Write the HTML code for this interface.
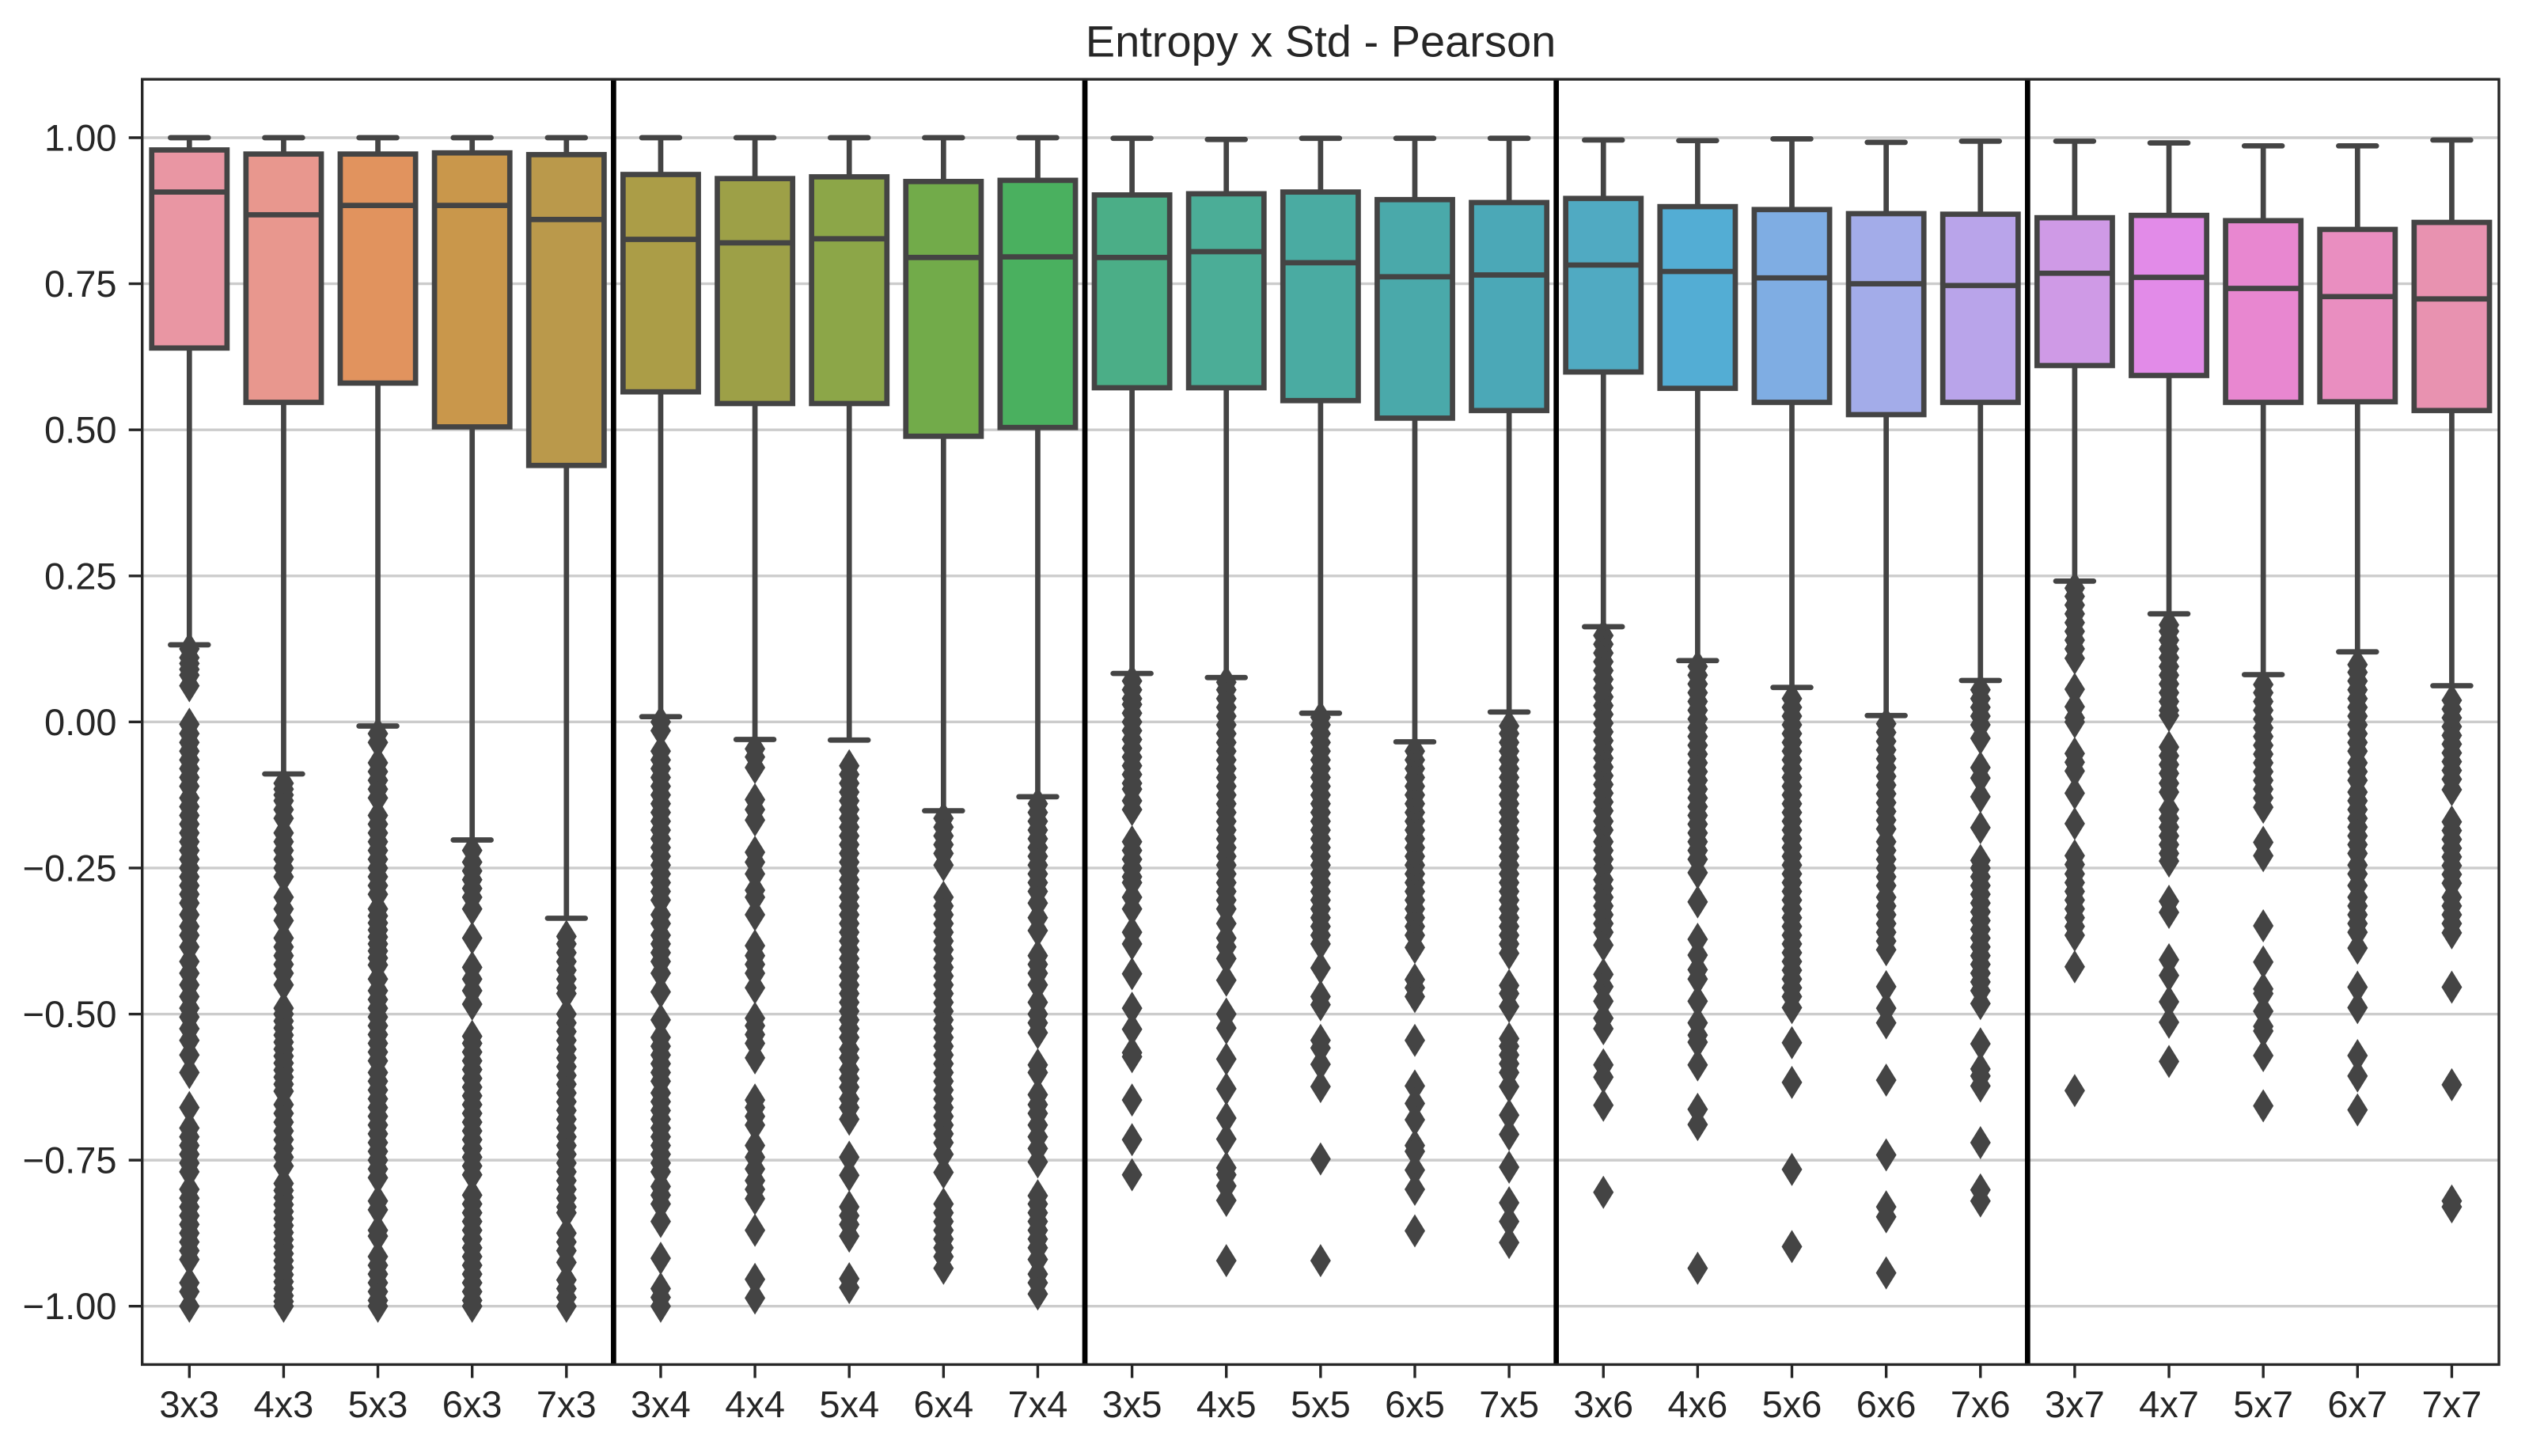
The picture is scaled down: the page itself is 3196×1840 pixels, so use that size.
<!DOCTYPE html>
<html lang="en">
<head>
<meta charset="utf-8">
<title>Entropy x Std - Pearson</title>
<style>
html,body{margin:0;padding:0;background:#fff;width:3196px;height:1840px;overflow:hidden}
svg{display:block}
text{font-family:"Liberation Sans",Arial,sans-serif;fill:#262626}
</style>
</head>
<body>
<svg id="chart" xmlns="http://www.w3.org/2000/svg" width="3196" height="1840" viewBox="0 0 3196 1840"></svg>
<script>
const categories = ["3x3","4x3","5x3","6x3","7x3","3x4","4x4","5x4","6x4","7x4","3x5","4x5","5x5","6x5","7x5","3x6","4x6","5x6","6x6","7x6","3x7","4x7","5x7","6x7","7x7"];
const yTickValues = [1,0.75,0.5,0.25,0,-0.25,-0.5,-0.75,-1];
const yTickLabels = ["1.00","0.75","0.50","0.25","0.00","\u22120.25","\u22120.50","\u22120.75","\u22121.00"];
const separators = [4.5,9.5,14.5,19.5];
const q3 = [.979,.972,.972,.974,.971,.937,.930,.933,.925,.927,.902,.904,.907,.894,.889,.896,.882,.877,.870,.869,.863,.867,.858,.843,.855];
const medians = [.907,.868,.884,.884,.860,.826,.820,.827,.795,.796,.795,.805,.786,.762,.765,.782,.771,.760,.750,.747,.768,.761,.742,.728,.724];
const q1 = [.640,.547,.580,.505,.439,.565,.545,.545,.489,.504,.572,.572,.550,.520,.533,.599,.571,.547,.526,.547,.610,.593,.547,.548,.533];
const whiskerHigh = [1,1,1,1,1,1,1,1,1,1,.999,.997,.999,.999,.999,.996,.995,.998,.992,.994,.994,.991,.986,.986,.996];
const whiskerLow = [.132,-.089,-.007,-.202,-.336,.009,-.03,-.031,-.152,-.128,.083,.076,.015,-.034,.017,.163,.105,.059,.011,.071,.241,.185,.081,.12,.062];
const outliers = [
[.125,.11,.10,.09,.08,.062,-.004,-.02,-.035,-.05,-.065,-.08,-.095,-.11,-.13,-.145,-.16,-.175,-.19,-.205,-.22,-.235,-.25,-.265,-.28,-.295,-.31,-.33,-.35,-.365,-.385,-.41,-.43,-.45,-.47,-.49,-.505,-.525,-.545,-.57,-.60,-.66,-.695,-.71,-.725,-.74,-.755,-.77,-.80,-.815,-.83,-.845,-.86,-.875,-.89,-.905,-.92,-.96,-.975,-1],
[-.105,-.115,-.125,-.135,-.15,-.165,-.19,-.205,-.22,-.235,-.25,-.265,-.30,-.32,-.34,-.37,-.385,-.40,-.415,-.43,-.45,-.49,-.50,-.512,-.524,-.536,-.548,-.56,-.572,-.584,-.596,-.608,-.62,-.632,-.655,-.67,-.685,-.70,-.715,-.73,-.745,-.76,-.79,-.802,-.814,-.826,-.838,-.85,-.862,-.874,-.886,-.898,-.91,-.922,-.934,-.946,-.958,-.97,-.982,-.992,-1],
[-.02,-.035,-.07,-.085,-.10,-.115,-.13,-.16,-.175,-.19,-.205,-.22,-.235,-.25,-.265,-.28,-.295,-.32,-.332,-.344,-.356,-.368,-.38,-.392,-.404,-.416,-.44,-.46,-.475,-.49,-.505,-.52,-.535,-.55,-.565,-.58,-.60,-.615,-.63,-.645,-.66,-.675,-.69,-.705,-.72,-.735,-.75,-.765,-.78,-.82,-.835,-.87,-.88,-.915,-.93,-.945,-.96,-.975,-.99,-1],
[-.22,-.24,-.255,-.27,-.285,-.30,-.32,-.37,-.42,-.44,-.46,-.483,-.538,-.55,-.565,-.58,-.595,-.61,-.625,-.64,-.655,-.67,-.685,-.70,-.715,-.73,-.745,-.76,-.775,-.81,-.825,-.84,-.855,-.87,-.885,-.90,-.915,-.93,-.945,-.96,-.975,-.99,-1],
[-.367,-.38,-.395,-.41,-.425,-.44,-.455,-.465,-.50,-.515,-.53,-.545,-.56,-.575,-.59,-.605,-.62,-.635,-.65,-.665,-.68,-.695,-.71,-.725,-.74,-.755,-.77,-.785,-.80,-.815,-.83,-.84,-.875,-.89,-.905,-.925,-.955,-.97,-.985,-1],
[0,-.015,-.05,-.065,-.08,-.095,-.11,-.125,-.14,-.155,-.17,-.185,-.20,-.215,-.23,-.245,-.26,-.275,-.29,-.305,-.33,-.345,-.365,-.38,-.395,-.41,-.43,-.462,-.51,-.54,-.555,-.57,-.585,-.60,-.615,-.635,-.65,-.665,-.68,-.695,-.71,-.725,-.74,-.755,-.77,-.795,-.81,-.825,-.855,-.918,-.97,-.985,-1],
[-.046,-.06,-.078,-.133,-.15,-.168,-.223,-.24,-.26,-.288,-.30,-.33,-.383,-.40,-.415,-.43,-.455,-.507,-.52,-.535,-.55,-.575,-.647,-.66,-.675,-.69,-.725,-.745,-.765,-.785,-.80,-.816,-.87,-.954,-.986],
[-.075,-.09,-.105,-.12,-.135,-.15,-.165,-.18,-.195,-.21,-.225,-.24,-.255,-.27,-.285,-.30,-.315,-.33,-.345,-.36,-.375,-.39,-.405,-.42,-.435,-.45,-.465,-.48,-.495,-.51,-.525,-.54,-.56,-.575,-.595,-.61,-.625,-.645,-.66,-.68,-.745,-.776,-.83,-.845,-.86,-.88,-.953,-.968],
[-.165,-.18,-.195,-.21,-.225,-.245,-.30,-.315,-.33,-.345,-.36,-.375,-.39,-.405,-.42,-.435,-.45,-.465,-.48,-.495,-.51,-.525,-.54,-.555,-.57,-.585,-.60,-.615,-.63,-.645,-.66,-.675,-.69,-.705,-.72,-.74,-.771,-.825,-.84,-.855,-.87,-.885,-.90,-.915,-.935],
[-.14,-.155,-.17,-.185,-.20,-.215,-.23,-.245,-.26,-.275,-.29,-.31,-.335,-.357,-.40,-.415,-.43,-.45,-.48,-.50,-.515,-.532,-.587,-.60,-.638,-.655,-.67,-.69,-.71,-.73,-.753,-.811,-.825,-.84,-.855,-.87,-.885,-.90,-.92,-.945,-.96,-.979],
[.07,.055,.04,.03,.015,0,-.015,-.03,-.045,-.06,-.075,-.09,-.105,-.115,-.135,-.15,-.205,-.22,-.235,-.25,-.265,-.275,-.30,-.32,-.36,-.38,-.431,-.49,-.526,-.566,-.573,-.647,-.715,-.775],
[.068,.055,.04,.025,.01,-.005,-.02,-.035,-.05,-.065,-.08,-.095,-.11,-.125,-.14,-.155,-.17,-.185,-.20,-.215,-.23,-.245,-.26,-.275,-.29,-.305,-.32,-.345,-.37,-.385,-.405,-.442,-.50,-.524,-.577,-.628,-.678,-.714,-.763,-.775,-.794,-.819,-.922],
[.008,-.005,-.02,-.035,-.05,-.065,-.08,-.095,-.11,-.125,-.14,-.155,-.17,-.185,-.20,-.215,-.23,-.245,-.26,-.275,-.29,-.305,-.32,-.335,-.35,-.365,-.38,-.421,-.47,-.484,-.545,-.558,-.586,-.624,-.748,-.922],
[-.05,-.065,-.08,-.095,-.11,-.125,-.14,-.155,-.17,-.185,-.20,-.215,-.23,-.245,-.26,-.275,-.29,-.305,-.32,-.335,-.35,-.365,-.386,-.441,-.455,-.47,-.545,-.623,-.653,-.681,-.725,-.735,-.767,-.80,-.871],
[-.007,-.02,-.035,-.05,-.065,-.08,-.095,-.11,-.125,-.14,-.155,-.17,-.185,-.20,-.215,-.23,-.245,-.26,-.275,-.29,-.305,-.32,-.335,-.35,-.365,-.38,-.396,-.451,-.465,-.487,-.542,-.555,-.57,-.585,-.60,-.624,-.673,-.706,-.762,-.823,-.855,-.891],
[.148,.133,.118,.103,.088,.073,.058,.043,.028,.013,-.002,-.017,-.032,-.047,-.062,-.077,-.092,-.107,-.122,-.137,-.152,-.17,-.185,-.205,-.22,-.235,-.25,-.27,-.285,-.30,-.315,-.33,-.345,-.36,-.382,-.432,-.453,-.478,-.507,-.525,-.587,-.608,-.656,-.805],
[.095,.08,.065,.05,.035,.02,.005,-.01,-.025,-.04,-.055,-.07,-.085,-.10,-.115,-.13,-.145,-.16,-.175,-.19,-.205,-.22,-.235,-.258,-.308,-.372,-.399,-.424,-.44,-.478,-.515,-.536,-.548,-.587,-.663,-.689,-.935],
[.04,.025,.01,-.005,-.02,-.035,-.05,-.065,-.08,-.095,-.11,-.125,-.14,-.155,-.17,-.185,-.20,-.215,-.23,-.245,-.26,-.275,-.29,-.305,-.32,-.335,-.35,-.365,-.38,-.395,-.41,-.425,-.44,-.455,-.47,-.489,-.549,-.617,-.766,-.898],
[-.003,-.018,-.033,-.048,-.063,-.078,-.093,-.108,-.123,-.138,-.153,-.168,-.183,-.205,-.22,-.235,-.25,-.265,-.28,-.30,-.315,-.33,-.345,-.36,-.375,-.39,-.453,-.49,-.515,-.613,-.741,-.83,-.847,-.943],
[.055,.04,.025,.01,-.005,-.028,-.078,-.096,-.128,-.181,-.237,-.25,-.265,-.28,-.295,-.31,-.325,-.34,-.355,-.37,-.385,-.40,-.415,-.43,-.445,-.46,-.482,-.551,-.594,-.606,-.623,-.72,-.801,-.82],
[.229,.215,.20,.185,.17,.155,.14,.125,.109,.056,.026,.007,0,-.054,-.069,-.084,-.122,-.174,-.229,-.244,-.26,-.275,-.29,-.305,-.32,-.335,-.35,-.365,-.419,-.631],
[.166,.155,.14,.125,.11,.095,.08,.065,.05,.035,.02,.011,-.043,-.058,-.073,-.088,-.105,-.12,-.15,-.165,-.18,-.195,-.21,-.225,-.238,-.307,-.326,-.407,-.434,-.479,-.514,-.581],
[.064,.05,.035,.02,.005,-.01,-.025,-.04,-.055,-.07,-.085,-.10,-.115,-.13,-.146,-.206,-.229,-.349,-.411,-.457,-.465,-.495,-.521,-.529,-.571,-.657],
[.098,.085,.07,.055,.04,.025,.01,-.005,-.02,-.035,-.05,-.07,-.085,-.10,-.12,-.135,-.15,-.165,-.18,-.195,-.21,-.225,-.245,-.26,-.28,-.30,-.315,-.33,-.345,-.36,-.387,-.454,-.489,-.571,-.606,-.664],
[.037,.022,.007,-.008,-.023,-.038,-.053,-.068,-.083,-.098,-.116,-.171,-.186,-.201,-.216,-.231,-.246,-.261,-.276,-.30,-.315,-.33,-.345,-.361,-.454,-.621,-.82,-.83]
];
const palette = ["#e996a3","#e8978e","#e1935e","#c9974b","#ba994b","#ab9d47","#9da047","#8ca648","#72ab4a","#4ab05f","#4bae87","#4bad97","#4aaba2","#4aa9aa","#4ba8b7","#50aac2","#53add4","#7fade3","#a3ace9","#b9a4ea","#cf9ae6","#e28be8","#e887d0","#e98ec0","#e892b0"];

const svgNS = "http://www.w3.org/2000/svg";
const chart = document.getElementById("chart");
const axisLeft = 179.7, axisRight = 3158, axisTop = 100.2, axisBottom = 1724.4;
const ink = "#444444", spineInk = "#262626";
const lineW = 6.7;
function xScale(i){ return 239.3 + i * 119.13; }
function yScale(v){ return 912.35 - v * 738.35; }
function make(tag, parent){ const el = document.createElementNS(svgNS, tag); parent.appendChild(el); return el; }
function line(el, x1, y1, x2, y2, color, w){
  el.setAttribute("x1", x1); el.setAttribute("y1", y1);
  el.setAttribute("x2", x2); el.setAttribute("y2", y2);
  el.setAttribute("stroke", color); el.setAttribute("stroke-width", w);
}

const bg = make("rect", chart);


bg.setAttribute("x", 0); bg.setAttribute("y", 0); bg.setAttribute("width", 3196); bg.setAttribute("height", 1840); bg.setAttribute("fill", "#ffffff");

const gridGroup = make("g", chart);


yTickValues.forEach(function(v){
  const g = make("line", gridGroup);
  
  
  line(g, axisLeft, yScale(v), axisRight, yScale(v), "#cccccc", 3.4);
});

categories.forEach(function(cat, i){
  const cx = xScale(i);
  const group = make("g", chart);
  
  

  const box = make("rect", group);
  
  
  box.setAttribute("x", cx - 47.6);
  box.setAttribute("width", 95.2);
  box.setAttribute("y", yScale(q3[i]));
  box.setAttribute("height", yScale(q1[i]) - yScale(q3[i]));
  box.setAttribute("fill", palette[i]);
  box.setAttribute("stroke", ink);
  box.setAttribute("stroke-width", lineW);

  const wHigh = make("line", group);
  
  
  line(wHigh, cx, yScale(q3[i]), cx, yScale(whiskerHigh[i]), ink, lineW);

  const wLow = make("line", group);
  
  
  line(wLow, cx, yScale(q1[i]), cx, yScale(whiskerLow[i]), ink, lineW);

  [whiskerHigh[i], whiskerLow[i]].forEach(function(v){
    const cap = make("line", group);
    
    
    line(cap, cx - 23.9, yScale(v), cx + 23.9, yScale(v), ink, lineW);
    cap.setAttribute("stroke-linecap", "round");
  });

  const med = make("line", group);
  
  
  line(med, cx - 47.6, yScale(medians[i]), cx + 47.6, yScale(medians[i]), ink, lineW);

  outliers[i].forEach(function(v){
    const y = yScale(v);
    const p = make("polygon", group);
    
    
    p.setAttribute("points", cx + "," + (y - 21) + " " + (cx + 13) + "," + y + " " + cx + "," + (y + 21) + " " + (cx - 13) + "," + y);
    p.setAttribute("fill", ink);
  });
});

separators.forEach(function(s){
  const sep = make("line", chart);
  
  
  line(sep, xScale(s), axisTop, xScale(s), axisBottom, "#000000", 6.7);
});

const frame = make("rect", chart);


frame.setAttribute("x", axisLeft); frame.setAttribute("y", axisTop);
frame.setAttribute("width", axisRight - axisLeft); frame.setAttribute("height", axisBottom - axisTop);
frame.setAttribute("fill", "none"); frame.setAttribute("stroke", spineInk); frame.setAttribute("stroke-width", 3.4);

yTickValues.forEach(function(v, i){
  const t = make("line", chart);
  
  
  line(t, axisLeft - 17, yScale(v), axisLeft, yScale(v), spineInk, 3.4);
  const lb = make("text", chart);
  
  
  lb.setAttribute("x", 147.5);
  lb.setAttribute("y", yScale(v) + 16.5);
  lb.setAttribute("text-anchor", "end");
  lb.setAttribute("font-size", 47);
  lb.textContent = yTickLabels[i];
});

categories.forEach(function(cat, i){
  const t = make("line", chart);
  
  
  line(t, xScale(i), axisBottom, xScale(i), axisBottom + 17, spineInk, 3.4);
  const lb = make("text", chart);
  
  
  lb.setAttribute("x", xScale(i));
  lb.setAttribute("y", 1791);
  lb.setAttribute("text-anchor", "middle");
  lb.setAttribute("font-size", 47);
  lb.textContent = cat;
});

const title = make("text", chart);


title.setAttribute("x", 1669);
title.setAttribute("y", 71.7);
title.setAttribute("text-anchor", "middle");
title.setAttribute("font-size", 56);
title.textContent = "Entropy x Std - Pearson";
</script>
</body>
</html>
